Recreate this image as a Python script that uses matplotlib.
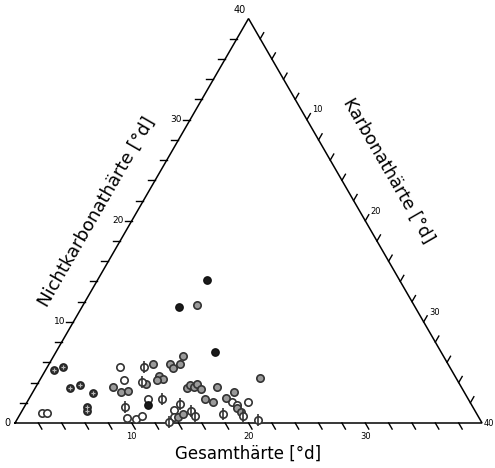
import numpy as np
import matplotlib.pyplot as plt

# Gesamthärte (G) and Nichtkarbonathärte (N) in °d
dark_g = [23.5, 19.8, 20.6, 12.3]
dark_n = [14.1, 11.5, 7.0, 1.8]

cross_g = [5.9, 6.9, 6.5, 7.5, 8.2, 7.0, 6.8]
cross_n = [5.2, 5.5, 3.5, 3.8, 3.0, 1.6, 1.2]

open_g = [2.8, 3.2, 11.7, 11.5, 9.8, 10.6, 11.2, 12.6, 14.3, 13.9, 19.6, 19.9, 21.0]
open_n = [1.0, 1.0, 5.5, 4.3, 0.5, 0.4, 0.7, 2.4, 1.3, 0.6, 2.1, 1.8, 2.1]

grey_g = [10.2, 10.6, 11.3, 13.2, 14.7, 14.6, 14.9, 14.3, 16.2, 16.2, 17.0, 17.7,
          21.4, 16.5, 16.9, 17.1, 17.5, 17.6, 17.5, 18.0, 19.1, 19.3, 20.3, 23.2,
          14.3, 14.8, 19.8, 19.9]
grey_n = [3.6, 3.1, 3.2, 3.9, 5.8, 4.6, 4.4, 4.3, 5.8, 5.4, 5.8, 6.6,
          11.7, 3.5, 3.8, 3.6, 3.9, 3.4, 2.4, 2.1, 3.6, 2.5, 3.1, 4.5,
          0.6, 0.9, 1.5, 1.1]

phi_g = [10.2, 13.8, 12.9, 13.8, 13.2, 15.1, 15.7, 15.8, 18.3, 19.9, 21.0]
phi_n = [1.6, 5.5, 4.1, 2.4, 0.1, 1.9, 1.2, 0.7, 0.9, 0.7, 0.3]

ticks = np.arange(2, 40, 2)
tick_labels = [10, 20, 30]

H = np.sqrt(3) / 2


def to_xy(g, n):
    g = np.asarray(g, float)
    n = np.asarray(n, float)
    return g - n / 2, n * H


fig = plt.figure(figsize=(4.95, 4.68), dpi=100)
ax = fig.add_axes([0, 0, 1, 1])
ax.set_xlim(-1.285, 41.11)
ax.set_ylim(-3.854, 36.23)
ax.axis('off')

# triangle
ax.plot([0, 40, 20, 0], [0, 0, 40 * H, 0], color='black', lw=1.1, solid_joinstyle='miter')

L = 0.6
# bottom axis (Gesamthärte), ticks parallel to right edge
for t in ticks:
    ax.plot([t, t + L * 0.5], [0, -L * H], color='black', lw=1)
for t in tick_labels:
    ax.text(t, -0.75, str(t), ha='center', va='top', fontsize=6)
ax.text(-0.35, 0, '0', ha='right', va='center', fontsize=7)
ax.text(40.15, 0, '40', ha='left', va='center', fontsize=6)

# left axis (Nichtkarbonathärte), horizontal ticks
for t in ticks:
    x, y = t / 2, t * H
    ax.plot([x, x - L], [y, y], color='black', lw=1)
for t in tick_labels:
    ax.text(t / 2 - L - 0.1, t * H, str(t), ha='right', va='center', fontsize=6.5)
ax.text(19.8, 40 * H + 0.3, '40', ha='right', va='bottom', fontsize=7)

# right axis (Karbonathärte), ticks parallel to left edge
for t in ticks:
    x, y = 20 + t / 2, (40 - t) * H
    ax.plot([x, x + L * 0.5], [y, y + L * H], color='black', lw=1)
for t in tick_labels:
    ax.text(20 + t / 2 + 0.45, (40 - t) * H + 0.45, str(t), ha='left', va='bottom', fontsize=6)

# axis titles
ax.text(20, -2.6, 'Gesamthärte [°d]', ha='center', va='center', fontsize=12)
ax.text(7.0, 18.1, 'Nichtkarbonathärte [°d]', ha='center', va='center', fontsize=13, rotation=60)
ax.text(32.0, 21.6, 'Karbonathärte [°d]', ha='center', va='center', fontsize=12.5, rotation=-60)

ms = 28
x, y = to_xy(open_g, open_n)
ax.scatter(x, y, s=ms, facecolor='white', edgecolor='#333333', lw=1.2, zorder=3)
x, y = to_xy(grey_g, grey_n)
ax.scatter(x, y, s=ms, facecolor='#9a9a9a', edgecolor='#333333', lw=1.2, zorder=3)
x, y = to_xy(phi_g, phi_n)
ax.scatter(x, y, s=ms, facecolor='white', edgecolor='#333333', lw=1.2, zorder=3)
ax.scatter(x, y, s=70, marker='|', color='#333333', lw=1.2, zorder=4)
x, y = to_xy(cross_g, cross_n)
ax.scatter(x, y, s=ms, facecolor='#333333', edgecolor='#222222', lw=1.0, zorder=3)
ax.scatter(x, y, s=12, marker='+', color='#bbbbbb', lw=0.8, zorder=4)
x, y = to_xy(dark_g, dark_n)
ax.scatter(x, y, s=ms, facecolor='#1a1a1a', edgecolor='#111111', lw=1.0, zorder=3)

fig.savefig('out.png', dpi=100)
